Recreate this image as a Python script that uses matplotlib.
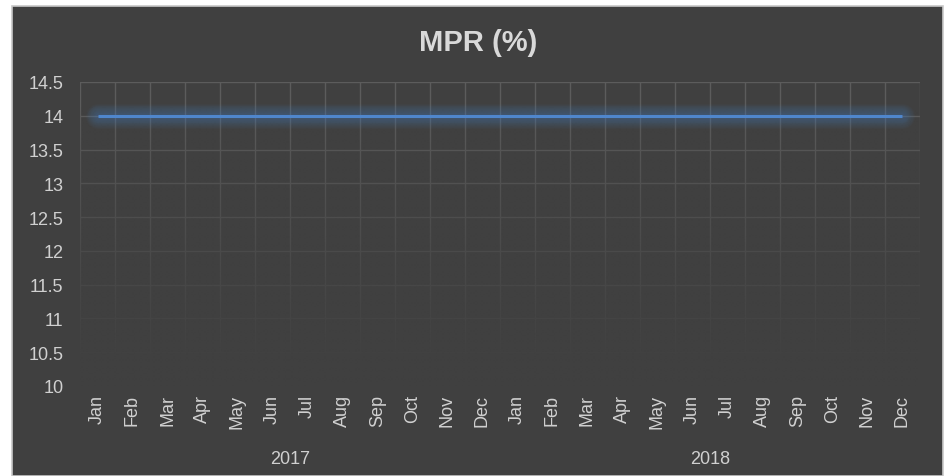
import numpy as np
import matplotlib
matplotlib.use("Agg")
import matplotlib.pyplot as plt
from matplotlib.patches import Rectangle
import matplotlib.transforms as mtransforms

months = ["Jan", "Feb", "Mar", "Apr", "May", "Jun", "Jul", "Aug", "Sep", "Oct", "Nov", "Dec"]
years = ["2017", "2018"]
categories = months * 2
mpr = [14, 14, 14, 14, 14, 14, 14, 14, 14, 14, 14, 14,
       14, 14, 14, 14, 14, 14, 14, 14, 14, 14, 14, 14]
yticks = [10, 10.5, 11, 11.5, 12, 12.5, 13, 13.5, 14, 14.5]

plt.rcParams['font.family'] = ['Liberation Sans', 'DejaVu Sans']
BG = '#404040'
TXT = '#d0d0d0'
LINE = '#4f86cc'

fig = plt.figure(figsize=(9.49, 4.77), dpi=100, facecolor='white')
fig.patches.append(Rectangle((12 / 949, 0), (943 - 12) / 949, 1 - 7 / 477,
                             transform=fig.transFigure, facecolor=BG,
                             edgecolor='#c8c8c8', linewidth=1.2, zorder=-10))

ax = fig.add_axes([80 / 949, 1 - 387 / 477, (920 - 80) / 949, (387 - 83) / 477])
ax.set_zorder(5)
ax.set_facecolor(BG)
for s in ax.spines.values():
    s.set_visible(False)

x = np.arange(len(categories))
ax.set_xlim(-0.5, len(categories) - 0.5)
ax.set_ylim(min(yticks), max(yticks))

# gridlines
for yv in yticks:
    ax.axhline(yv, color='#5c5c5c', lw=1.0, zorder=1)
for xb in np.arange(len(categories) + 1) - 0.5:
    ax.axvline(xb, color='#5c5c5c', lw=1.0, zorder=1)

# gradient fade of gridlines toward bottom
grad = np.zeros((256, 2, 4))
bgc = matplotlib.colors.to_rgb(BG)
grad[..., :3] = bgc
t = np.linspace(0, 1, 256)  # 0 at bottom, 1 at top (origin lower)
alpha = np.clip((0.92 - t) / 0.85, 0, 1) ** 0.8
grad[..., 3] = alpha[:, None]
ax.imshow(grad, extent=[-0.5, len(categories) - 0.5, min(yticks), max(yticks)],
          origin='lower', aspect='auto', zorder=2, interpolation='bilinear')

# soft glow
for w in np.linspace(18, 4, 12):
    ax.plot(x, mpr, color=LINE, lw=w, alpha=0.035, solid_capstyle='round', zorder=3)
ax.plot(x, mpr, color=LINE, lw=2.2, solid_capstyle='butt', zorder=4)

ax.set_yticks(yticks)
ax.set_yticklabels([f"{v:g}" for v in yticks])
ax.set_xticks(x)
ax.set_xticklabels(categories, rotation=90, va='top', ha='center')
ax.tick_params(axis='y', length=0, pad=12, labelsize=13, labelcolor=TXT)
ax.tick_params(axis='x', length=0, pad=6, labelsize=13, labelcolor=TXT)

trans = mtransforms.blended_transform_factory(ax.transData, fig.transFigure)
for i, yr in enumerate(years):
    ax.text(i * 12 + 5.5, 1 - 460 / 477, yr, transform=trans, ha='center', va='center',
            fontsize=13, color=TXT)

fig.text(478 / 949, 1 - 43 / 477, "MPR (%)", ha='center', va='center',
         fontsize=21, fontweight='bold', color='#d9d9d9')

fig.savefig("out.png", dpi=100, facecolor='white')
